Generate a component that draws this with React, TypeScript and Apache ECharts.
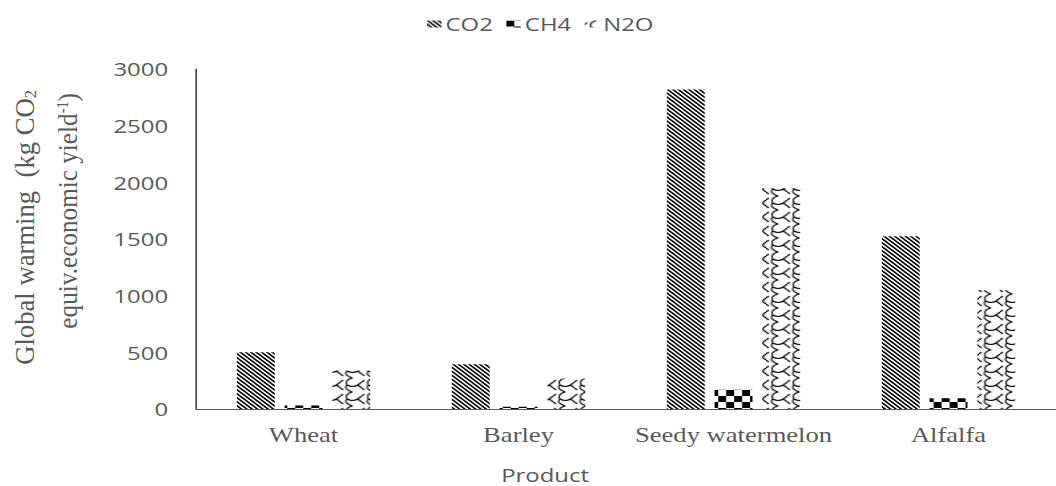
import React, { useEffect, useRef } from 'react';
import * as echarts from 'echarts';

const categories = ['Wheat', 'Barley', 'Seedy watermelon', 'Alfalfa'];
const seriesNames = ['CO2', 'CH4', 'N2O'];
const co2Values = [500, 395, 2820, 1525];
const ch4Values = [30, 20, 170, 95];
const n2oValues = [340, 270, 1950, 1050];
const yMin = 0;
const yMax = 3000;
const yInterval = 500;

// the reference image is horizontally stretched; reproduce via CSS scaleX
const S = 1.33;
const W = 1056 / S;
const GREY = '#595959';

function pixelTile(w: number, h: number, dark: (x: number, y: number) => boolean) {
  const c = document.createElement('canvas');
  c.width = w;
  c.height = h;
  const ctx = c.getContext('2d')!;
  const img = ctx.createImageData(w, h);
  for (let y = 0; y < h; y++) {
    for (let x = 0; x < w; x++) {
      const v = dark(x, y) ? 0 : 255;
      const i = (y * w + x) * 4;
      img.data[i] = v;
      img.data[i + 1] = v;
      img.data[i + 2] = v;
      img.data[i + 3] = 255;
    }
  }
  ctx.putImageData(img, 0, 0);
  return { image: c.toDataURL(), repeat: 'repeat', imageWidth: w, imageHeight: h };
}

function drawnTile(w: number, h: number, draw: (ctx: CanvasRenderingContext2D) => void) {
  const c = document.createElement('canvas');
  c.width = w;
  c.height = h;
  const ctx = c.getContext('2d')!;
  ctx.fillStyle = '#fff';
  ctx.fillRect(0, 0, w, h);
  ctx.strokeStyle = '#000';
  ctx.lineWidth = 1.1;
  draw(ctx);
  return { image: c.toDataURL(), repeat: 'repeat', imageWidth: w, imageHeight: h };
}

export default function App() {
  const ref = useRef<HTMLDivElement>(null);

  useEffect(() => {
    if (!ref.current) return;
    const chart = echarts.init(ref.current, null, { renderer: 'svg' });

    const co2Pattern = pixelTile(4, 4, (x, y) => ((((x - y) % 4) + 4) % 4) < 2);
    const ch4Pattern = pixelTile(12, 12, (x, y) => (Math.floor(x / 6) + Math.floor(y / 6)) % 2 === 0);
    const n2oPattern = drawnTile(16, 14, (ctx) => {
      ctx.beginPath();
      ctx.moveTo(9, 0);
      ctx.quadraticCurveTo(3, 2, 5, 7);
      ctx.quadraticCurveTo(9, 10, 13, 7);
      ctx.moveTo(5, 7);
      ctx.quadraticCurveTo(2, 11, 9, 14);
      ctx.moveTo(13, 7);
      ctx.lineTo(16, 4);
      ctx.moveTo(0, 4);
      ctx.lineTo(2, 2);
      ctx.moveTo(13, 7);
      ctx.lineTo(16, 10);
      ctx.moveTo(0, 10);
      ctx.lineTo(2, 12);
      ctx.stroke();
    });
    const patterns = [co2Pattern, ch4Pattern, n2oPattern];
    const values = [co2Values, ch4Values, n2oValues];

    const serif = 'Liberation Serif';
    const sans = 'Open Sans';

    chart.setOption({
      animation: false,
      backgroundColor: '#fff',
      textStyle: { fontFamily: serif },
      legend: {
        data: seriesNames,
        left: 316,
        top: 10,
        icon: 'rect',
        itemWidth: 11,
        itemHeight: 7,
        itemGap: 10,
        textStyle: { fontFamily: sans, fontSize: 18, color: GREY, padding: [0, 0, 0, -2] },
      },
      grid: { left: 147.4, top: 69, width: 654.9, height: 340 },
      xAxis: {
        type: 'category',
        data: categories,
        axisLine: { lineStyle: { color: GREY, width: 1.2 } },
        axisTick: { show: false },
        axisLabel: {
          interval: 0,
          margin: 16,
          fontFamily: serif,
          fontSize: 20,
          color: GREY,
        },
      },
      yAxis: {
        type: 'value',
        min: yMin,
        max: yMax,
        interval: yInterval,
        splitLine: { show: false },
        axisLine: { show: true, lineStyle: { color: '#404040', width: 1.2 } },
        axisTick: { show: false },
        axisLabel: {
          fontFamily: sans,
          fontSize: 18,
          color: GREY,
          margin: 21,
          formatter: (v: number) => String(v),
        },
      },
      series: seriesNames.map((name, i) => ({
        name,
        type: 'bar',
        data: values[i],
        barWidth: 28.5,
        barGap: '26%',
        itemStyle: { color: patterns[i] },
      })),
      graphic: [
        {
          type: 'text',
          x: 18.8,
          y: 90,
          rotation: Math.PI / 2,
          scaleX: 1.27,
          style: {
            text: '{a|Global warming  (kg CO}{s|2}',
            rich: {
              a: { fontFamily: serif, fontSize: 21, fill: GREY },
              s: { fontFamily: serif, fontSize: 13, fill: GREY, verticalAlign: 'bottom' },
            },
            align: 'right',
            verticalAlign: 'middle',
            textAlign: 'right',
            textVerticalAlign: 'middle',
          },
        },
        {
          type: 'text',
          x: 51.1,
          y: 93,
          rotation: Math.PI / 2,
          scaleX: 1.2,
          style: {
            text: '{a|equiv.economic yield}{p|-1}{a|)}',
            rich: {
              a: { fontFamily: serif, fontSize: 21, fill: GREY },
              p: { fontFamily: serif, fontSize: 12, fill: GREY, verticalAlign: 'top' },
            },
            align: 'right',
            verticalAlign: 'middle',
            textAlign: 'right',
            textVerticalAlign: 'middle',
          },
        },
        {
          type: 'text',
          x: 409.8,
          y: 475,
          style: {
            text: 'Product',
            fontFamily: sans,
            fontSize: 18,
            fill: GREY,
            align: 'center',
            verticalAlign: 'middle',
            textAlign: 'center',
            textVerticalAlign: 'middle',
          },
        },
      ],
    });

    return () => {
      chart.dispose();
    };
  }, []);

  return (
    <div
      ref={ref}
      style={{
        position: 'fixed',
        left: 0,
        top: 0,
        width: W,
        height: 486,
        transform: `scaleX(${S})`,
        transformOrigin: '0 0',
      }}
    />
  );
}
